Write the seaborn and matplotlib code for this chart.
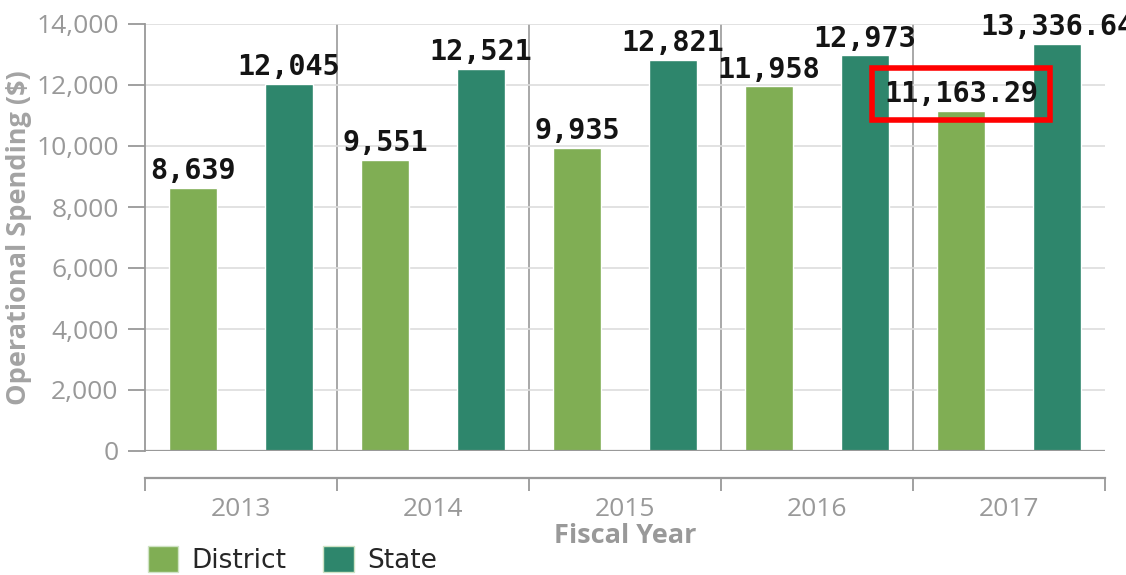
import matplotlib
matplotlib.use("Agg")
import matplotlib.pyplot as plt
import seaborn as sns
import pandas as pd
from matplotlib.patches import Patch

years = ["2013", "2014", "2015", "2016", "2017"]
district = [8639, 9551, 9935, 11958, 11163.29]
state = [12045, 12521, 12821, 12973, 13336.64]
district_labels = ["8,639", "9,551", "9,935", "11,958", "11,163.29"]
state_labels = ["12,045", "12,521", "12,821", "12,973", "13,336.64"]
series_names = ["District", "State"]
yticks = [0, 2000, 4000, 6000, 8000, 10000, 12000, 14000]
ytick_labels = ["0", "2,000", "4,000", "6,000", "8,000", "10,000", "12,000", "14,000"]

colors = {"District": "#80AE54", "State": "#2E866C"}
GRAY = "#999999"

df = pd.DataFrame({
    "year": years * 2,
    "value": district + state,
    "series": ["District"] * len(years) + ["State"] * len(years),
})

sns.set_theme(style="white")
plt.rcParams["font.family"] = ["Open Sans", "DejaVu Sans"]

W, H = 1126, 575
fig = plt.figure(figsize=(W / 100, H / 100), dpi=100)
L, R, T, B = 145, 1105, 24, 451
ax = fig.add_axes([L / W, 1 - B / H, (R - L) / W, (B - T) / H])

sns.barplot(data=df, x="year", y="value", hue="series", order=years,
            hue_order=series_names, palette=colors, width=1.0, gap=0.5,
            saturation=1, legend=False, ax=ax, errorbar=None)

ax.set_xlim(-0.5, len(years) - 0.5)
ax.set_ylim(0, 14000)
ax.set_yticks(yticks)
ax.set_yticklabels(ytick_labels)
ax.tick_params(axis="y", which="major", length=12, width=1.3, color=GRAY,
               labelcolor=GRAY, labelsize=19, pad=7, left=True)
ax.set_xticks([])
ax.set_xlabel("")
for s in ["top", "right", "bottom"]:
    ax.spines[s].set_visible(False)
ax.spines["left"].set_color(GRAY)
ax.spines["left"].set_linewidth(1.3)
ax.yaxis.grid(True, color="#DDDDDD", linewidth=1.2)
ax.set_axisbelow(True)
ax.axhline(0, color=GRAY, linewidth=1.6, zorder=1)
for i in range(1, len(years)):
    ax.axvline(i - 0.5, color=GRAY, linewidth=1.2, zorder=0.5)

ax.set_ylabel("Operational Spending ($)", color=GRAY, fontsize=19.5,
              fontweight="bold", alpha=0.9)
ax.yaxis.set_label_coords(-0.118, 0.5)

# data labels
containers = ax.containers
for cont, labels in zip(containers, [district_labels, state_labels]):
    for bar, lab in zip(cont, labels):
        x = bar.get_x() + bar.get_width() / 2
        y = bar.get_height()
        t = ax.annotate(lab, (x, y), xytext=(0, 2), textcoords="offset points",
                        ha="center", va="bottom", fontsize=20.5,
                        family="DejaVu Sans Mono", fontweight="bold",
                        color="#141414",
                        clip_on=False, annotation_clip=False)
        if lab == "11,163.29":
            t.set_bbox(dict(boxstyle="square,pad=0.42", facecolor="none",
                            edgecolor="#FF0000", linewidth=4))

# separate x axis below
AXY = 478
ax2 = fig.add_axes([L / W, 1 - AXY / H, (R - L) / W, 0.0001])
ax2.set_xlim(-0.5, len(years) - 0.5)
ax2.set_yticks([])
for s in ["top", "right", "left"]:
    ax2.spines[s].set_visible(False)
ax2.spines["bottom"].set_color(GRAY)
ax2.spines["bottom"].set_linewidth(1.6)
ax2.set_xticks([i - 0.5 for i in range(len(years) + 1)])
ax2.set_xticklabels([])
ax2.set_xticks(range(len(years)), labels=years, minor=True)
ax2.tick_params(axis="x", which="major", length=9, width=1.3, color=GRAY,
                direction="out", bottom=True)
ax2.tick_params(axis="x", which="minor", length=0, labelsize=19,
                labelcolor=GRAY, pad=14)
ax2.patch.set_visible(False)

fig.text((L + R) / 2 / W, 1 - 536 / H, "Fiscal Year", ha="center", va="center",
         color=GRAY, fontsize=19.5, fontweight="bold")

handles = [Patch(facecolor=colors[n], edgecolor="#cfe3c4", label=n)
           for n in series_names]
fig.legend(handles=handles, loc="lower left", bbox_to_anchor=(148 / W, 1 / H),
           ncol=2, frameon=False, handlelength=1.15, borderpad=0,
           borderaxespad=0,
           handleheight=1.15, handletextpad=0.5, columnspacing=1.4,
           prop={"family": "DejaVu Sans", "size": 19})

fig.savefig("out.png", dpi=100)
